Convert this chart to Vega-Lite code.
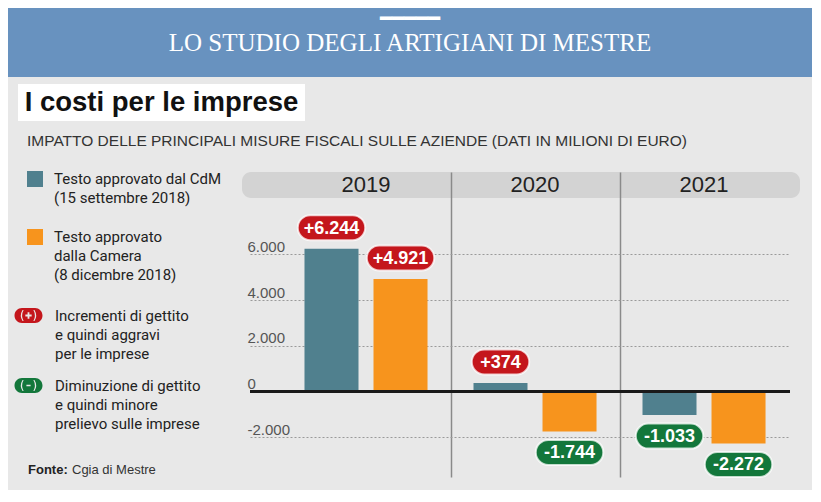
{
  "$schema": "https://vega.github.io/schema/vega-lite/v6.json",
  "background": "#ffffff",
  "padding": {"left": 8, "top": 8, "right": 8, "bottom": 8},
  "bounds": "flush",
  "spacing": 0,
  "config": {
    "view": {"stroke": null},
    "font": "Liberation Sans",
    "style": {"guide-label": {"lineHeight": 19}}
  },
  "vconcat": [
    {
      "hconcat": [
        {"width": 804, "height": 482, "view": {"fill": "#e8e8e8", "stroke": null}, "data": {"values": [{}]}, "mark": {"type": "text"}, "encoding": {"text": {"value": ""}}}
      ],
      "bounds": "flush"
    },
    {
      "width": 804,
      "height": 69,
      "view": {"fill": "#6892bf", "stroke": null},
      "data": {"values": [{"t": "LO STUDIO DEGLI ARTIGIANI DI MESTRE"}]},
      "layer": [
        {"mark": {"type": "text", "font": "Liberation Serif", "fontSize": 25, "color": "#ffffff", "baseline": "middle", "align": "center"},
         "encoding": {"text": {"field": "t", "type": "nominal"}}},
        {"mark": {"type": "text", "font": "DejaVu Sans Mono", "fontSize": 20, "color": "#ffffff", "baseline": "middle", "align": "center", "dy": -24},
         "encoding": {"text": {"value": "━━━━━"}}}
      ]
    },
    {"width": 804, "height": 7, "data": {"values": [{}]}, "mark": {"type": "text"}, "encoding": {"text": {"value": ""}}},
    {
      "hconcat": [
        {"width": 1, "height": 37, "data": {"values": [{}]}, "mark": {"type": "text"}, "encoding": {"text": {"value": ""}}},
        {
          "width": 287,
          "height": 37,
          "view": {"fill": "#ffffff", "stroke": null},
          "data": {"values": [{"t": "I costi per le imprese"}]},
          "mark": {"type": "text", "font": "Liberation Sans", "fontWeight": "bold", "fontSize": 27.5, "color": "#111111", "baseline": "middle", "align": "center"},
          "encoding": {"text": {"field": "t", "type": "nominal"}}
        }
      ],
      "spacing": 9,
      "bounds": "flush"
    },
    {"width": 804, "height": 88, "data": {"values": [{}]}, "mark": {"type": "text"}, "encoding": {"text": {"value": ""}}},
    {
      "hconcat": [
        {"width": 225, "height": 26, "data": {"values": [{}]}, "mark": {"type": "text"}, "encoding": {"text": {"value": ""}}},
        {
          "width": 558,
          "height": 26,
          "view": {"fill": "#d3d3d3", "cornerRadius": 9, "stroke": null},
          "data": {"values": [{"anno": "2019"}, {"anno": "2020"}, {"anno": "2021"}]},
          "mark": {"type": "text", "font": "Liberation Sans", "fontSize": 22, "color": "#222222", "baseline": "middle", "align": "center"},
          "encoding": {
            "x": {"field": "anno", "type": "nominal", "sort": ["2019", "2020", "2021"], "scale": {"type": "band", "paddingInner": 0, "paddingOuter": 0.151, "align": 0.775}, "axis": null},
            "text": {"field": "anno", "type": "nominal"}
          }
        }
      ],
      "spacing": 9,
      "bounds": "flush"
    },
    {
      "title": {"text": "IMPATTO DELLE PRINCIPALI MISURE FISCALI SULLE AZIENDE (DATI IN MILIONI DI EURO)", "anchor": "start", "frame": "bounds", "dx": 19, "offset": 23, "font": "Liberation Sans", "fontSize": 15.5, "fontWeight": "normal", "color": "#333333"},
      "spacing": 9,
      "bounds": "flush",
      "hconcat": [
        {"width": 233, "height": 305, "data": {"values": [{}]}, "mark": {"type": "text"}, "encoding": {"text": {"value": ""}}},
        {
          "width": 540,
          "height": 305,
          "data": {"values": [
            {"anno": "2019", "serie": "CdM", "valore": 6244, "etichetta": "+6.244", "segno": "pos", "fonte": "Cgia di Mestre"},
            {"anno": "2019", "serie": "Camera", "valore": 4921, "etichetta": "+4.921", "segno": "pos", "fonte": "Cgia di Mestre"},
            {"anno": "2020", "serie": "CdM", "valore": 374, "etichetta": "+374", "segno": "pos", "fonte": "Cgia di Mestre"},
            {"anno": "2020", "serie": "Camera", "valore": -1744, "etichetta": "-1.744", "segno": "neg", "fonte": "Cgia di Mestre"},
            {"anno": "2021", "serie": "CdM", "valore": -1033, "etichetta": "-1.033", "segno": "neg", "fonte": "Cgia di Mestre"},
            {"anno": "2021", "serie": "Camera", "valore": -2272, "etichetta": "-2.272", "segno": "neg", "fonte": "Cgia di Mestre"}
          ]},
          "layer": [
            {
              "mark": {"type": "bar"},
              "encoding": {
                "x": {"field": "anno", "type": "nominal", "sort": ["2019", "2020", "2021"],
                  "scale": {"paddingInner": 0, "paddingOuter": 0.0976, "align": 0.955},
                  "axis": {"orient": "top", "title": null, "domain": false, "labels": false, "ticks": false, "grid": true, "tickBand": "extent",
                    "gridColor": {"condition": {"test": "datum.extra || datum.value === '2021'", "value": "transparent"}, "value": "#8a8a8a"},
                    "gridWidth": 1.5}},
                "xOffset": {"field": "serie", "type": "nominal", "sort": ["CdM", "Camera"], "scale": {"paddingInner": 0.2174, "paddingOuter": 0.333}},
                "y": {"field": "valore", "type": "quantitative",
                  "scale": {"domain": [-3739, 9598], "nice": false, "zero": false},
                  "axis": {"title": null, "domain": false, "ticks": false, "tickSize": 0, "values": [-2000, 0, 2000, 4000, 6000],
                    "labelAlign": "left", "labelBaseline": "alphabetic", "labelPadding": 3, "labelOffset": -3,
                    "labelFont": "Liberation Sans", "labelFontSize": 15, "labelColor": "#555555",
                    "labelExpr": "(datum.value < 0 ? '-' : '') + replace(format(abs(datum.value), ','), ',', '.')",
                    "gridDash": [2, 2], "gridColor": "#9a9a9a", "gridWidth": 1}},
                "color": {"field": "serie", "type": "nominal",
                  "scale": {"domain": ["CdM", "Camera"], "range": ["#50808e", "#f7941d"]},
                  "legend": {"orient": "none", "legendX": 19, "legendY": 163, "title": null, "symbolType": "square", "symbolSize": 256,
                    "symbolStrokeWidth": 0, "labelOffset": 11, "labelFont": "Roboto", "labelFontSize": 15, "labelColor": "#222222", "labelLimit": 300,
                    "rowPadding": 23, "padding": 0,
                    "labelExpr": "datum.label === 'CdM' ? ['Testo approvato dal CdM', '(15 settembre 2018)'] : ['Testo approvato', 'dalla Camera', '(8 dicembre 2018)']"}}
              }
            },
            {
              "mark": {"type": "rule", "color": "#1a1a1a", "strokeWidth": 3},
              "encoding": {
                "y": {"datum": 0, "type": "quantitative"},
                "strokeDash": {"field": "fonte", "type": "nominal", "scale": {"range": [[1, 0]]},
                  "legend": {"orient": "none", "legendX": 20, "legendY": 455, "title": "Fonte:", "titleOrient": "left",
                    "titleFont": "Liberation Sans", "titleFontSize": 13, "titleFontWeight": "bold", "titleColor": "#222222", "titlePadding": 4,
                    "symbolSize": 0, "symbolStrokeWidth": 0, "symbolOpacity": 0, "labelOffset": -13, "labelLimit": 300,
                    "labelFont": "Liberation Sans", "labelFontSize": 13, "labelColor": "#333333", "padding": 0}}
              }
            },
            {
              "mark": {"type": "point", "opacity": 0},
              "encoding": {
                "shape": {"field": "segno", "type": "nominal",
                  "scale": {"domain": ["pos", "neg"], "range": [
                    "M-0.93,-1.07L0.93,-1.07A1.07,1.07,0,0,1,0.93,1.07L-0.93,1.07A1.07,1.07,0,0,1,-0.93,-1.07ZM0.13,-0.45L-0.13,-0.45L-0.13,-0.13L-0.45,-0.13L-0.45,0.13L-0.13,0.13L-0.13,0.45L0.13,0.45L0.13,0.13L0.45,0.13L0.45,-0.13L0.13,-0.13ZM-0.85,-0.8Q-1.35,0,-0.85,0.8L-0.7,0.8Q-1.12,0,-0.7,-0.8ZM0.85,-0.8L0.7,-0.8Q1.12,0,0.7,0.8L0.85,0.8Q1.35,0,0.85,-0.8Z",
                    "M-0.93,-1.07L0.93,-1.07A1.07,1.07,0,0,1,0.93,1.07L-0.93,1.07A1.07,1.07,0,0,1,-0.93,-1.07ZM0.3,-0.12L-0.3,-0.12L-0.3,0.12L0.3,0.12ZM-0.85,-0.8Q-1.35,0,-0.85,0.8L-0.7,0.8Q-1.12,0,-0.7,-0.8ZM0.85,-0.8L0.7,-0.8Q1.12,0,0.7,0.8L0.85,0.8Q1.35,0,0.85,-0.8Z"
                  ]},
                  "legend": {"orient": "none", "legendX": 13, "legendY": 300, "title": null, "symbolSize": 196, "symbolStrokeWidth": 0, "symbolOpacity": 1,
                    "labelOffset": 19, "labelFont": "Roboto", "labelFontSize": 15, "labelColor": "#222222", "labelLimit": 300, "rowPadding": 16, "padding": 0,
                    "labelExpr": "datum.label === 'pos' ? ['Incrementi di gettito', 'e quindi aggravi', 'per le imprese'] : ['Diminuzione di gettito', 'e quindi minore', 'prelievo sulle imprese']"}}
              }
            },
            {
              "transform": [{"filter": "datum.segno === 'pos'"}],
              "mark": {"type": "point", "filled": true, "opacity": 1, "size": 625, "stroke": "#ffffff", "strokeWidth": 2, "strokeOpacity": 0.75, "yOffset": -21},
              "encoding": {
                "x": {"field": "anno", "type": "nominal"},
                "xOffset": {"field": "serie", "type": "nominal", "sort": ["CdM", "Camera"]},
                "y": {"field": "valore", "type": "quantitative"},
                "fill": {"field": "segno", "type": "nominal", "scale": {"domain": ["pos", "neg"], "range": ["#c4161c", "#13773b"]},
                  "legend": {"orient": "none", "legendX": 13, "legendY": 300, "title": null, "symbolSize": 196, "symbolStrokeWidth": 0, "symbolOpacity": 1,
                    "labelOffset": 19, "labelFont": "Roboto", "labelFontSize": 15, "labelColor": "#222222", "labelLimit": 300, "rowPadding": 16, "padding": 0,
                    "labelExpr": "datum.label === 'pos' ? ['Incrementi di gettito', 'e quindi aggravi', 'per le imprese'] : ['Diminuzione di gettito', 'e quindi minore', 'prelievo sulle imprese']"}},
                "shape": {"condition": {"test": "abs(datum.valore) < 1000", "value": "M-1.3,-1L1.3,-1A1,1,0,0,1,1.3,1L-1.3,1A1,1,0,0,1,-1.3,-1Z"},
                  "value": "M-1.7,-1L1.7,-1A1,1,0,0,1,1.7,1L-1.7,1A1,1,0,0,1,-1.7,-1Z"}
              }
            },
            {
              "transform": [{"filter": "datum.segno === 'neg'"}],
              "mark": {"type": "point", "filled": true, "opacity": 1, "size": 625, "stroke": "#ffffff", "strokeWidth": 2, "strokeOpacity": 0.75, "yOffset": 21},
              "encoding": {
                "x": {"field": "anno", "type": "nominal"},
                "xOffset": {"field": "serie", "type": "nominal", "sort": ["CdM", "Camera"]},
                "y": {"field": "valore", "type": "quantitative"},
                "fill": {"field": "segno", "type": "nominal"},
                "shape": {"condition": {"test": "abs(datum.valore) < 1000", "value": "M-1.3,-1L1.3,-1A1,1,0,0,1,1.3,1L-1.3,1A1,1,0,0,1,-1.3,-1Z"},
                  "value": "M-1.7,-1L1.7,-1A1,1,0,0,1,1.7,1L-1.7,1A1,1,0,0,1,-1.7,-1Z"}
              }
            },
            {
              "transform": [{"filter": "datum.segno === 'pos'"}],
              "mark": {"type": "text", "color": "#ffffff", "font": "Liberation Sans", "fontWeight": "bold", "fontSize": 18, "baseline": "middle", "align": "center", "yOffset": -20},
              "encoding": {
                "x": {"field": "anno", "type": "nominal"},
                "xOffset": {"field": "serie", "type": "nominal", "sort": ["CdM", "Camera"]},
                "y": {"field": "valore", "type": "quantitative"},
                "text": {"field": "etichetta", "type": "nominal"}
              }
            },
            {
              "transform": [{"filter": "datum.segno === 'neg'"}],
              "mark": {"type": "text", "color": "#ffffff", "font": "Liberation Sans", "fontWeight": "bold", "fontSize": 18, "baseline": "middle", "align": "center", "yOffset": 22},
              "encoding": {
                "x": {"field": "anno", "type": "nominal"},
                "xOffset": {"field": "serie", "type": "nominal", "sort": ["CdM", "Camera"]},
                "y": {"field": "valore", "type": "quantitative"},
                "text": {"field": "etichetta", "type": "nominal"}
              }
            }
          ]
        }
      ]
    }
  ]
}
